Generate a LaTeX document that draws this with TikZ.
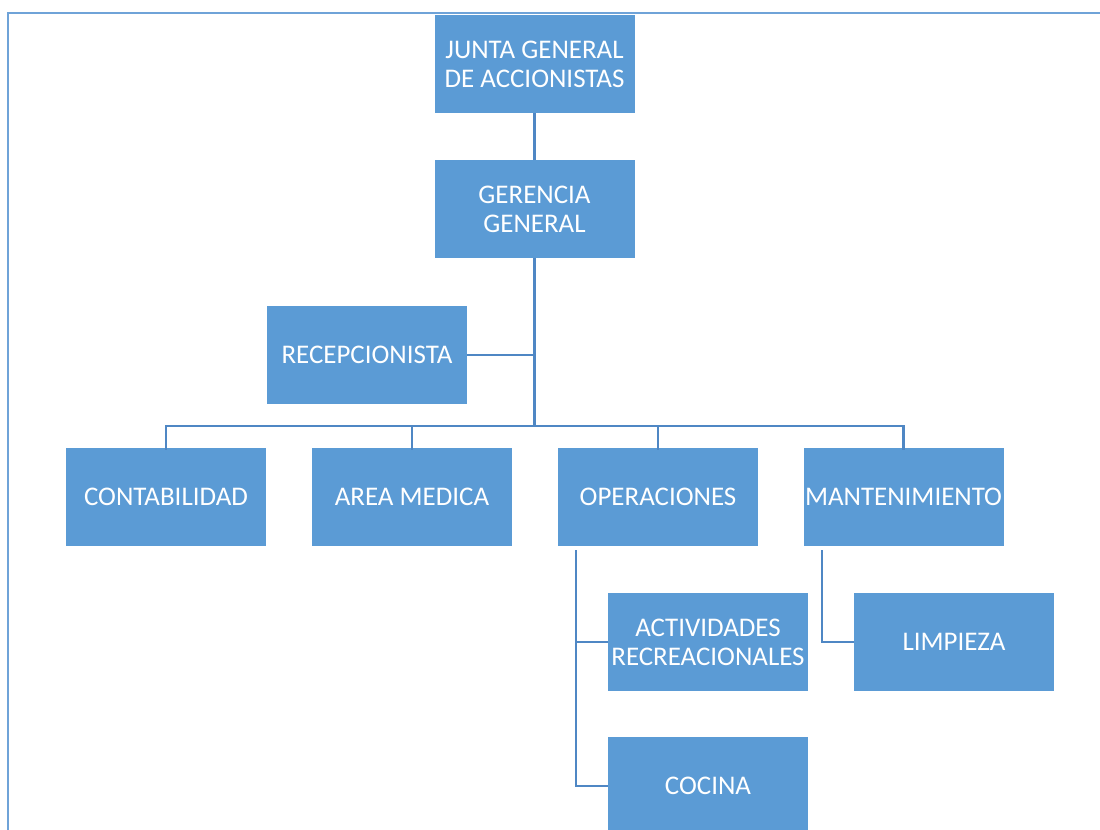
\documentclass[tikz,border=0pt]{standalone}
\usepackage{fontspec}
\setmainfont{Carlito}
\definecolor{boxfill}{HTML}{5B9BD5}
\definecolor{linecol}{HTML}{4F87C4}
\definecolor{framecol}{HTML}{6FA3D8}
\begin{document}
\begin{tikzpicture}[x=0.75pt,y=-0.75pt,
  orgbox/.style={fill=boxfill,draw=none,minimum width=150pt,minimum height=73.5pt,inner sep=0pt,
    text=white,align=center,font=\fontsize{20.2}{21.8}\selectfont},
  conn/.style={draw=linecol,line width=2.2pt}]
\useasboundingbox (0,0) rectangle (1100,830);
\clip (0,0) rectangle (1100,830);
\draw[framecol,line width=1.6pt] (1100,13) -- (8,13) -- (8,830);
\node[orgbox] (junta) at (534.5,64) {JUNTA GENERAL\\DE ACCIONISTAS};
\node[orgbox] (ger) at (534.5,209) {GERENCIA\\GENERAL};
\node[orgbox] (rec) at (367,355) {RECEPCIONISTA};
\node[orgbox] (cont) at (166,497) {CONTABILIDAD};
\node[orgbox] (area) at (412,497) {AREA MEDICA};
\node[orgbox] (oper) at (658,497) {OPERACIONES};
\node[orgbox] (mant) at (903.5,497) {MANTENIMIENTO};
\node[orgbox] (act) at (708,642) {ACTIVIDADES\\RECREACIONALES};
\node[orgbox] (limp) at (954,642) {LIMPIEZA};
\node[orgbox] (coc) at (708,786) {COCINA};
\coordinate (bar) at (534.5,426);
\coordinate (opl) at (576,550);
\coordinate (mnl) at (822,550);
\draw[conn] (junta.south) -- (ger.north);
\draw[conn] (ger.south) -- (bar);
\draw[conn] (rec.east) -- (rec.east -| ger.south);
\draw[conn] ([yshift=-1.5pt]cont.north) |- (bar) -| ([yshift=-1.5pt]mant.north);
\draw[conn] ([yshift=-1.5pt]area.north) -- (area.north |- bar);
\draw[conn] ([yshift=-1.5pt]oper.north) -- (oper.north |- bar);
\draw[conn] (opl) |- (act.west);
\draw[conn] (opl) |- (coc.west);
\draw[conn] (mnl) |- (limp.west);
\end{tikzpicture}
\end{document}
